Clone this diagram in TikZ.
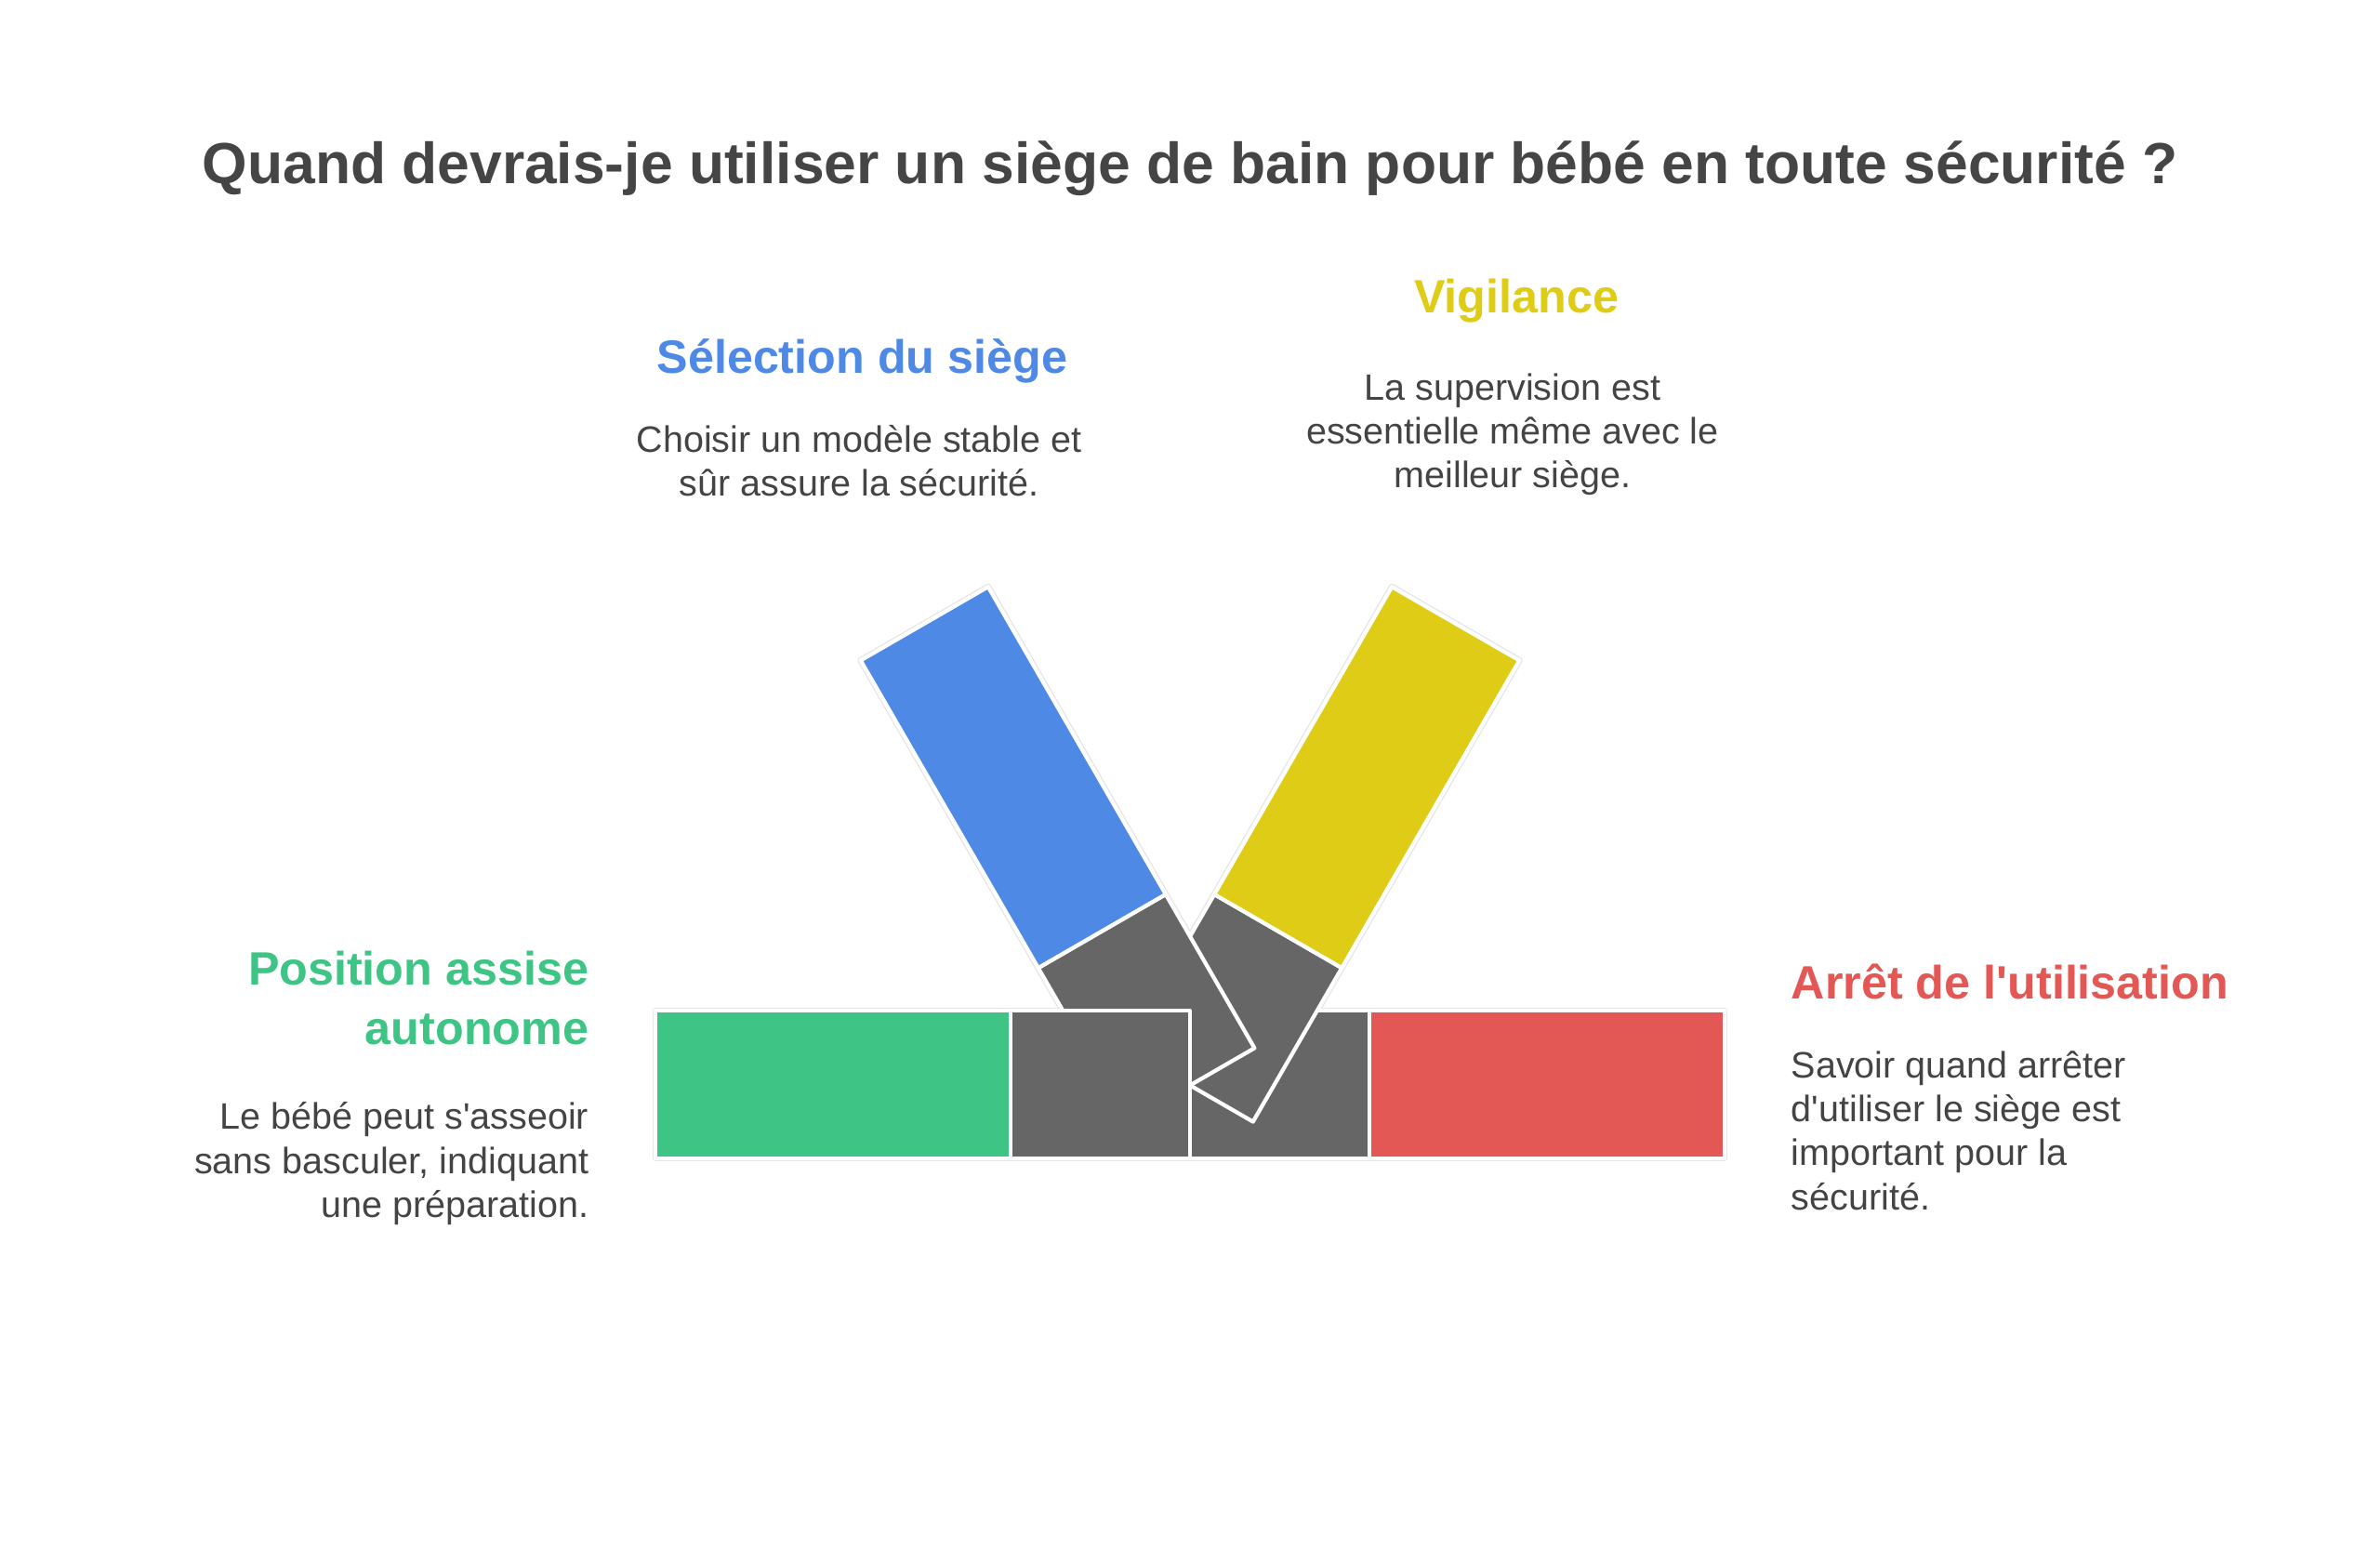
\documentclass[tikz,border=0pt]{standalone}
\usepackage{fontspec}
\setmainfont{Liberation Sans}[Ligatures=TeXOff]
\definecolor{tgray}{HTML}{444444}
\definecolor{ttitle}{HTML}{454545}
\definecolor{cblue}{HTML}{4F89E6}
\definecolor{cyellow}{HTML}{DECC16}
\definecolor{cgreen}{HTML}{3EC484}
\definecolor{cred}{HTML}{E35855}
\definecolor{cgray}{HTML}{666666}
\begin{document}
\begin{tikzpicture}[x=1pt,y=-1pt,inner sep=0pt,
  seg/.style={line width=2.6pt,draw=white,line join=round},
  halo/.style={line width=4.2pt,draw=black!10,line join=round},
  head/.style={font=\bfseries\fontsize{30.8}{39}\selectfont},
  body/.style={font=\fontsize{24.2}{29}\selectfont,text=tgray}]
\useasboundingbox[fill=white] (0,0) rectangle (1568,1019.2);
% faint outline halo
\foreach \p in {
  {(432,666) rectangle (666,763)},
  {(666,666) rectangle (784,763)},
  {(784,666) rectangle (902,763)},
  {(902,666) rectangle (1136,763)}}{
  \draw[halo] \p;
}
\draw[halo] (742.5,739) -- (826.5,690.5) -- (768,589.2) -- (684,637.7) -- cycle;
\draw[halo] (684,637.7) -- (768,589.2) -- (651,386.6) -- (567,435.1) -- cycle;
\draw[halo] (825.5,739) -- (741.5,690.5) -- (800,589.2) -- (884,637.7) -- cycle;
\draw[halo] (800,589.2) -- (884,637.7) -- (1001,435.1) -- (917,386.6) -- cycle;
% bars
\filldraw[seg,fill=cgreen] (432,666) rectangle (666,763);
\filldraw[seg,fill=cred] (902,666) rectangle (1136,763);
\filldraw[seg,fill=cgray] (784,666) rectangle (902,763);
% right arm
\filldraw[seg,fill=cgray] (825.5,739) -- (741.5,690.5) -- (800,589.2) -- (884,637.7) -- cycle;
\filldraw[seg,fill=cyellow] (800,589.2) -- (884,637.7) -- (1001,435.1) -- (917,386.6) -- cycle;
% left arm
\filldraw[seg,fill=cgray] (742.5,739) -- (826.5,690.5) -- (768,589.2) -- (684,637.7) -- cycle;
\filldraw[seg,fill=cblue] (684,637.7) -- (768,589.2) -- (651,386.6) -- (567,435.1) -- cycle;
% front box
\filldraw[seg,fill=cgray] (666,666) rectangle (784,763);
% texts
\node[anchor=base,font=\bfseries\fontsize{38.2}{44}\selectfont,text=ttitle] (title) at (784,121)
  {Quand devrais-je utiliser un siège de bain pour bébé en toute sécurité ?};
\node[head,text=cblue,anchor=base] (selh) at (568,246) {Sélection du siège};
\node[body,anchor=base,align=center] (selb) at (566,327) {Choisir un modèle stable et\\sûr assure la sécurité.};
\node[head,text=cyellow,anchor=base] (vigh) at (999,206) {Vigilance};
\node[body,anchor=base,align=center] (vigb) at (996.5,321.5) {La supervision est\\essentielle même avec le\\meilleur siège.};
\node[head,text=cgreen,anchor=base east,align=right] (posh) at (388,688) {Position assise\\autonome};
\node[body,anchor=base east,align=right] (posb) at (388,802) {Le bébé peut s'asseoir\\sans basculer, indiquant\\une préparation.};
\node[head,text=cred,anchor=base west] (arrh) at (1180,658) {Arrêt de l'utilisation};
\node[body,anchor=base west,align=left] (arrb) at (1180,797) {Savoir quand arrêter\\d'utiliser le siège est\\important pour la\\sécurité.};
\end{tikzpicture}
\end{document}
